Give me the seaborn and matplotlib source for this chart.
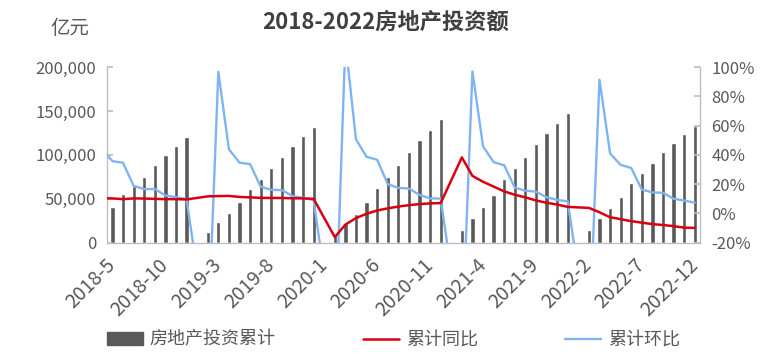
import numpy as np
import pandas as pd
import matplotlib
matplotlib.use('Agg')
import matplotlib.pyplot as plt
import seaborn as sns
from matplotlib.patches import Patch
from matplotlib.lines import Line2D
from matplotlib.ticker import FuncFormatter, FixedLocator

sns.set_theme(style='white')
plt.rcParams['font.family'] = ['Noto Sans CJK SC', 'DejaVu Sans']

# monthly categories, 2018-4 only feeds the line stub at the left edge
months = [f'{p.year}-{p.month}' for p in pd.period_range('2018-04', '2022-12', freq='M')]

# 房地产投资累计 (亿元), January has no release
invest = [None, 40531, 55531, 64559, 74519, 88948, 99325, 110083, 120264,
          None, 12090, 23803, 34217, 46075, 61609, 72843, 84589, 98008, 109603, 121265, 132194,
          None, 10115, 21963, 33103, 45920, 62780, 75325, 88454, 103484, 116556, 128492, 141443,
          None, 13986, 27576, 40240, 54318, 72179, 84895, 98060, 112568, 124934, 136443, 147602,
          None, 14499, 27765, 39154, 52134, 68314, 79462, 90809, 103559, 113945, 123863, 132895]

# 累计同比 (%)
yoy = [10.3, 10.2, 9.7, 10.2, 10.1, 9.9, 9.7, 9.7, 9.5,
       None, 11.6, 11.8, 11.9, 11.2, 10.9, 10.6, 10.5, 10.5, 10.3, 10.2, 9.9,
       None, -16.3, -7.7, -3.3, -0.3, 1.9, 3.4, 4.6, 5.6, 6.3, 6.8, 7.0,
       None, 38.3, 25.6, 21.6, 18.3, 15.0, 12.7, 10.9, 8.8, 7.2, 6.0, 4.4,
       None, 3.7, 0.7, -2.7, -4.0, -5.4, -6.4, -7.4, -8.0, -8.8, -9.8, -10.0]

# 累计环比 (%)
mom = [44.0, 35.7, 34.6, 18.8, 16.6, 16.6, 12.2, 11.1, 9.7,
       None, -89.9, 96.9, 43.8, 34.7, 33.7, 18.2, 16.1, 15.9, 11.8, 10.6, 9.0,
       None, -92.3, 117.1, 50.7, 38.7, 36.7, 20.0, 17.4, 17.0, 12.6, 10.2, 10.1,
       None, -90.1, 97.2, 45.9, 35.0, 32.9, 17.6, 15.5, 14.8, 11.0, 9.2, 8.2,
       None, -90.2, 91.5, 41.0, 33.2, 31.0, 16.3, 14.3, 14.0, 10.0, 8.7, 7.3]

df = pd.DataFrame({'month': months, 'invest': invest, 'yoy': yoy, 'mom': mom}, dtype=object)
df[['invest', 'yoy', 'mom']] = df[['invest', 'yoy', 'mom']].astype(float)
df['pos'] = np.arange(len(df))

bar_color = '#595959'
red = '#D9000F'
blue = '#80B4F0'
grey_txt = '#595959'
axis_grey = '#BFBFBF'

fig = plt.figure(figsize=(7.71, 3.57), dpi=100)
ax = fig.add_axes([0.139, 0.3207, 0.769, 0.4908])

sns.barplot(data=df, x='month', y='invest', order=months, color=bar_color,
            width=0.4, errorbar=None, saturation=1, ax=ax)

ax2 = ax.twinx()
d_yoy = df.dropna(subset=['yoy'])
d_mom = df.dropna(subset=['mom'])
sns.lineplot(x=d_mom['pos'], y=d_mom['mom'], color=blue, linewidth=1.7, ax=ax2, sort=False)
sns.lineplot(x=d_yoy['pos'], y=d_yoy['yoy'], color=red, linewidth=1.8, ax=ax2, sort=False)

ax.set_xlim(0.5, len(months) - 0.5)
ax.set_ylim(0, 200000)
ax2.set_ylim(-20, 100)
ax.set_yticks(np.arange(0, 200001, 50000))
ax2.set_yticks(np.arange(-20, 101, 20))
ax.yaxis.set_major_formatter(FuncFormatter(lambda v, p: f'{v:,.0f}'))
ax2.yaxis.set_major_formatter(FuncFormatter(lambda v, p: f'{v:.0f}%'))

label_pos = list(range(1, len(months), 5))
ax.xaxis.set_major_locator(FixedLocator(label_pos))
ax.set_xticklabels([months[i] for i in label_pos], rotation=45, ha='right', va='center',
                   rotation_mode='anchor', fontsize=14, color=grey_txt)
ax.xaxis.set_minor_locator(FixedLocator([i - 0.5 for i in label_pos]))
ax.tick_params(axis='x', which='major', length=0, pad=14)
ax.tick_params(axis='x', which='minor', length=4, direction='in', color=axis_grey, width=1)
ax.tick_params(axis='y', direction='in', length=4, color=axis_grey, labelsize=12,
               labelcolor=grey_txt, pad=8)
ax2.tick_params(axis='y', direction='in', length=4, color=axis_grey, labelsize=12,
                labelcolor=grey_txt, pad=8)

ax.set_xlabel('')
ax.set_ylabel('')
ax2.set_xlabel('')
ax2.set_ylabel('')
for a in (ax, ax2):
    a.spines['top'].set_visible(False)
    for s in ('left', 'right', 'bottom'):
        a.spines[s].set_color(axis_grey)
        a.spines[s].set_linewidth(1)
ax.spines['right'].set_visible(False)
ax2.spines['left'].set_visible(False)
ax2.spines['bottom'].set_visible(False)

fig.text(0.5, 0.938, '2018-2022房地产投资额', ha='center', va='center',
         fontsize=16, fontweight='bold', color='#404040')
fig.text(0.091, 0.92, '亿元', ha='center', va='center', fontsize=14, color=grey_txt)

handles = [Patch(color=bar_color), Line2D([], [], color=red, lw=1.8),
           Line2D([], [], color=blue, lw=1.7)]
fig.legend(handles, ['房地产投资累计', '累计同比', '累计环比'], loc='center',
           bbox_to_anchor=(0.51, 0.048), ncol=3, frameon=False, fontsize=13,
           handlelength=2.0, handletextpad=0.4, columnspacing=4.8,
           labelcolor=grey_txt)

fig.savefig('out.png', dpi=100)
